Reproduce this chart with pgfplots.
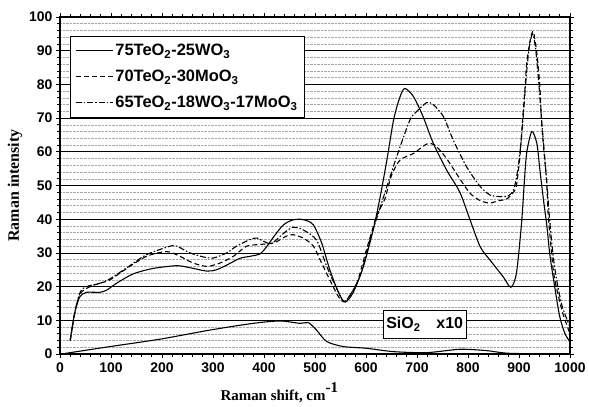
\documentclass[border=0pt]{standalone}
\usepackage{fontspec}
\setmainfont{Liberation Sans}
\newfontfamily\timesfont{Liberation Serif}
\usepackage{pgfplots}
\pgfplotsset{compat=1.18}

% 1 px of the reference = 1 bp here
\pgfplotstableread{
x y
20 4
25 9
30 13
39 17
52 18.3
78 18.3
92 19
111 21
144 23.8
183 25.4
229 26.2
255 25.6
288 24.6
307 25
327 26.4
353 28.4
373 29
392 29.7
405 31.8
420 35
438 38.3
455 39.7
471 40
485 39.5
497 38.3
513 33
529 25
546 18.3
559 15.4
575 18.3
595 26
614 36.8
627 46
641 57.6
654 69.4
666 76
676 78.8
693 76.4
712 70.4
732 62.5
758 54.6
784 48
804 39.8
824 31.8
843 27.9
869 22.9
884 19.8
895 24
905 38.8
910 50
915 59.6
925 66
935 62.5
941 54.6
948 45.7
954 38.8
961 28.9
971 19
980 11
990 6.1
1000 3.6
}\tungsten

\pgfplotstableread{
x y
20 4
30 13
40 18
59 20
78 21
98 22
131 25.4
170 29
209 30.4
235 29
261 27
288 26
314 27
340 29
366 32
392 32.5
420 33
444 35
457 35.4
477 34.4
497 32
513 27
529 22
546 17
559 15.6
582 21
601 31
621 41
637 46
650 53
667 57.6
693 59.5
719 62.3
735 62
758 58
784 52
804 47.7
824 45.5
843 44.8
860 45.5
876 46
889 48
895 50
902 59
908 71.5
912 79.3
915 86.3
922 93.2
928 95.7
935 89.3
941 79.3
944 69.4
948 61.5
954 51.6
957 41.8
962 33
968 24
976 18
986 12
1000 6
}\molybdenum

\pgfplotstableread{
x y
20 4
30 13
40 18.5
52 20
78 21
98 22.3
131 25.6
170 29.5
216 32
229 32
255 30
281 28.8
301 28.5
327 30
346 32
373 34
386 34.4
400 33.4
415 32.8
440 36
457 37.6
477 36.8
503 33.8
523 26
542 19.6
559 15.6
588 23
608 34
631 45
641 49.7
660 58.5
686 69.4
699 71.9
719 74.6
732 74
752 70.4
771 63.5
797 55.6
824 49.7
843 47.2
863 46.7
880 47
890 49
898 55
904 63
909 72
914 82
920 91
927 95
933 90
939 80
944 70
949 61
955 50
960 40
967 29
975 21
985 14
1000 8
}\mixed

\pgfplotstableread{
x y
5 0
20 0.4
98 2.2
196 4.4
294 7.1
379 9.1
431 9.8
471 9.1
487 9.3
503 7.1
523 3.7
556 2.2
601 1.7
654 0.7
719 0.4
784 1.4
837 1
882 0.2
1000 0
}\silica

\begin{document}
\begin{tikzpicture}
\begin{axis}[
    scale only axis,
    width=510bp,
    height=337bp,
    xmin=0, xmax=1000,
    ymin=0, ymax=100,
    xtick={0,100,...,1000},
    ytick={0,10,...,100},
    minor x tick num=4,
    minor y tick num=4,
    tick align=outside,
    major tick length=4bp,
    minor tick length=2.5bp,
    every tick/.style={black, line width=0.8pt},
    axis line style={line width=1.3pt},
    ymajorgrids, yminorgrids,
    major grid style={black, line width=0.6pt},
    minor grid style={gray!70, densely dotted, line width=0.5pt},
    /pgf/number format/assume math mode=true,
    /pgf/number format/1000 sep={},
    tick label style={font=\fontsize{14}{16}\selectfont\bfseries},
    xticklabel style={yshift=-1bp},
    ylabel={\timesfont\bfseries Raman intensity},
    ylabel style={font=\fontsize{16}{18}\selectfont, at={(axis description cs:-0.088,0.5)}, anchor=center},
    xlabel={\timesfont\bfseries Raman shift, cm\raisebox{0.55em}{-1}},
    xlabel style={font=\fontsize{15}{17}\selectfont, at={(axis description cs:0.43,-0.116)}, anchor=center},
    legend style={
        at={(0.0196,0.944)},
        anchor=north west,
        draw=black,
        line width=0.7pt,
        fill=white,
        font=\fontsize{16.5}{19}\selectfont\bfseries,
        inner xsep=5bp, inner ysep=6bp,
        row sep=9bp,
        nodes={inner sep=2bp},
    },
    legend cell align={left},
    legend image code/.code={\draw[#1] (0bp,0bp) -- (37bp,0bp);},
    every axis plot/.append style={line width=1.1pt, black, smooth, tension=0.45},
]
\addplot[solid] table[x=x,y=y] {\tungsten};
\addplot[dash pattern=on 5bp off 3bp] table[x=x,y=y] {\molybdenum};
\addplot[dash pattern=on 6bp off 2bp on 1.5bp off 2bp] table[x=x,y=y] {\mixed};
\addplot[solid, forget plot] table[x=x,y=y] {\silica};
\legend{75TeO\textsubscript{2}-25WO\textsubscript{3},
        70TeO\textsubscript{2}-30MoO\textsubscript{3},
        65TeO\textsubscript{2}-18WO\textsubscript{3}-17MoO\textsubscript{3}}
\node[draw=black, line width=0.7pt, fill=white, font=\fontsize{16}{18}\selectfont\bfseries,
      minimum width=83bp, minimum height=28bp] at (axis cs:715,8.9) {SiO\textsubscript{2}\quad x10};
\end{axis}
\path ([shift={(-60bp,-50bp)}]current axis.south west) rectangle ([shift={(19bp,17bp)}]current axis.north east);
\end{tikzpicture}
\end{document}
